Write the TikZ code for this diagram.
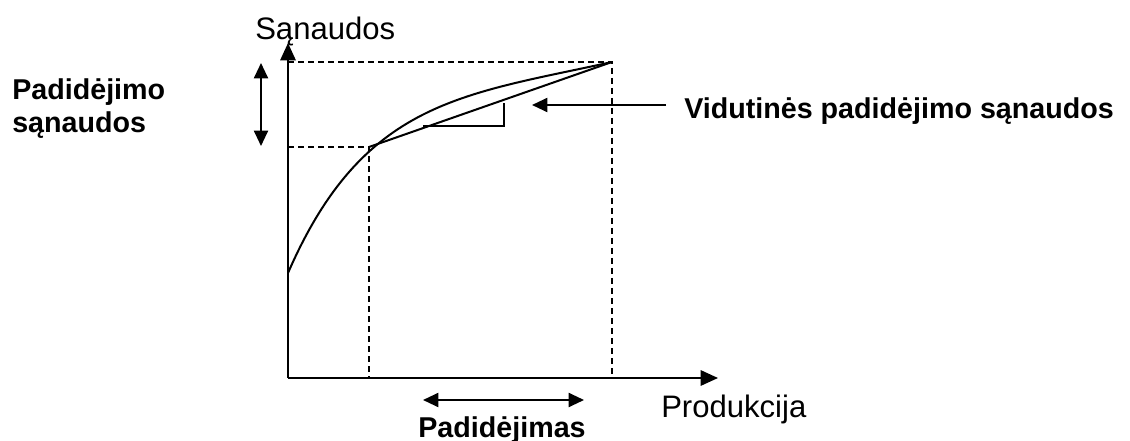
\documentclass[tikz,border=0pt]{standalone}
\usepackage{fontspec}
\setmainfont{Liberation Sans}
\usetikzlibrary{arrows.meta}
\begin{document}
\begin{tikzpicture}[x=0.75pt,y=-0.75pt,
  axis/.style={line width=1.5pt,-{Triangle[length=13pt,width=11.5pt]}},
  dbl/.style={line width=1.5pt,{Triangle[length=11.5pt,width=10.5pt]}-{Triangle[length=11.5pt,width=10.5pt]}},
  onearrow/.style={line width=1.5pt,-{Triangle[length=11.5pt,width=10.5pt]}},
  guide/.style={line width=1.2pt,dash pattern=on 4.5pt off 3pt},
  curveline/.style={line width=1.5pt},
  reglabel/.style={inner sep=0pt,font=\fontsize{23.3}{27}\selectfont},
  boldlabel/.style={inner sep=0pt,font=\fontsize{21.5}{25}\selectfont\bfseries}]
\useasboundingbox (0,0) rectangle (1130,441);
% coordinates
\coordinate (O) at (288,378);
\coordinate (Ytop) at (288,43);
\coordinate (Xend) at (718,378);
\coordinate (A) at (369,147);
\coordinate (B) at (612,62);
\coordinate (Ay) at (288,147);
\coordinate (By) at (288,62);
\coordinate (Ax) at (369,378);
\coordinate (Bx) at (612,378);
\coordinate (C0) at (288,273);
% guides
\draw[guide] (Ay) -- (A) -- (Ax);
\draw[guide] (By) -- (B) -- (Bx);
% axes
\draw[axis] (O) -- (Ytop);
\draw[axis] (O) -- (Xend);
% curve and chord
\draw[curveline] (C0) .. controls (363,100.5) and (462,95) .. (B);
\draw[curveline] (A) -- (B);
% slope bracket
\coordinate (T1) at (423,126);
\coordinate (T2) at (504,126);
\coordinate (T3) at (504,103);
\draw[line width=1.4pt] (T1) -- (T2) -- (T3);
% labels
\node[reglabel,anchor=base west] (ylab) at (255,40) {Sąnaudos};
\node[reglabel,anchor=base west] (xlab) at (661,417) {Produkcija};
\node[boldlabel,anchor=base west] (padA) at (12,100) {Padidėjimo};
\node[boldlabel,anchor=base west] (padB) at (12,133) {sąnaudos};
\node[boldlabel,anchor=base west] (vid) at (684,119) {Vidutinės padidėjimo sąnaudos};
\node[boldlabel,anchor=base] (inc) at (502,437) {Padidėjimas};
% arrows
\coordinate (D1) at (261,63);
\coordinate (D2) at (261,146);
\draw[dbl] (D1) -- (D2);
\coordinate (E1) at (423,400);
\coordinate (E2) at (584,400);
\draw[dbl] (E1) -- (E2);
\coordinate (F1) at (666,105);
\coordinate (F2) at (532,105);
\draw[onearrow] (F1) -- (F2);
\end{tikzpicture}
\end{document}
